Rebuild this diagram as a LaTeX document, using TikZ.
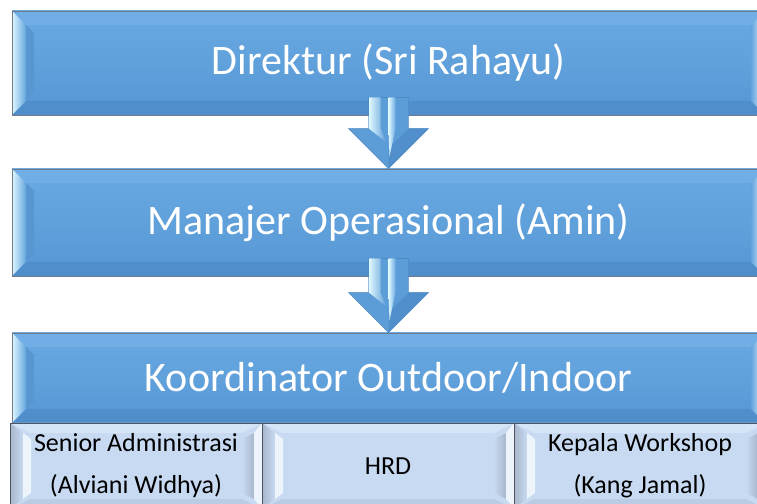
\documentclass[tikz,border=0pt]{standalone}
\usepackage{fontspec}
\setmainfont{Carlito}
\usetikzlibrary{calc}
\definecolor{blueTop}{RGB}{106,170,227}
\definecolor{blueBot}{RGB}{86,150,211}
\definecolor{blueMid}{RGB}{100,164,222}
\definecolor{bevTop}{RGB}{112,174,229}
\definecolor{bevBot}{RGB}{80,142,203}
\definecolor{bevDark}{RGB}{88,150,209}
\definecolor{bevLight}{RGB}{222,248,255}
\definecolor{boxLine}{RGB}{112,122,138}
\definecolor{lightFill}{RGB}{199,218,241}
\definecolor{lightTop}{RGB}{213,228,246}
\definecolor{lightBot}{RGB}{186,204,228}
\definecolor{lightGray}{RGB}{168,182,202}
\definecolor{lightWhite}{RGB}{238,244,251}
\definecolor{arrowBlue}{RGB}{92,156,215}
\definecolor{arrowDark}{RGB}{80,143,204}
\definecolor{arrowLine}{RGB}{70,128,188}

\begin{document}
\begin{tikzpicture}[x=1pt,y=1pt,
	bluebox/.style={draw=boxLine, line width=0.8pt, top color=blueTop, bottom color=blueBot,
		minimum width=753pt, minimum height=#1, inner sep=0pt, text=white,
		font=\fontsize{42}{50}\selectfont,
		path picture={
			\coordinate (nw) at (path picture bounding box.north west);
			\coordinate (ne) at (path picture bounding box.north east);
			\coordinate (sw) at (path picture bounding box.south west);
			\coordinate (se) at (path picture bounding box.south east);
			\fill[bevTop] (nw) -- (ne) -- ++(-14,-14) -- ($(nw)+(14,-14)$) -- cycle;
			\fill[bevBot] (sw) -- (se) -- ++(-14,14) -- ($(sw)+(14,14)$) -- cycle;
			\fill[bevDark] ($(nw)+(14,-14)$) -- ++(8,-8) -- ($(sw)+(22,22)$) -- ++(-8,-8) -- cycle;
			\shade[left color=bevLight, right color=blueMid] (nw) -- ++(14,-14) -- ($(sw)+(14,14)$) -- (sw) -- cycle;
			\shade[left color=blueMid, right color=bevLight] (ne) -- ++(-14,-14) -- ($(se)+(-14,14)$) -- (se) -- cycle;
		}},
	lightbox/.style={draw=boxLine!70!black, line width=0.8pt, fill=lightFill,
		minimum width=252pt, minimum height=86pt, inner sep=0pt, align=center,
		font=\fontsize{26}{42}\selectfont,
		path picture={
			\coordinate (nw) at (path picture bounding box.north west);
			\coordinate (ne) at (path picture bounding box.north east);
			\coordinate (sw) at (path picture bounding box.south west);
			\coordinate (se) at (path picture bounding box.south east);
			\fill[lightTop] (nw) -- (ne) -- ++(-20,-10) -- ($(nw)+(20,-10)$) -- cycle;
			\fill[lightBot] (sw) -- (se) -- ++(-20,10) -- ($(sw)+(20,10)$) -- cycle;
			\shade[left color=lightGray, right color=lightFill] (nw) -- ++(13,-10) -- ($(sw)+(13,10)$) -- (sw) -- cycle;
			\fill[lightWhite] ($(nw)+(13,-10)$) -- ++(8,-6) -- ($(sw)+(21,16)$) -- ++(-8,-6) -- cycle;
			\shade[left color=lightFill, right color=lightGray] ($(ne)+(-20,-16)$) -- ++(12,6) -- ($(se)+(-8,10)$) -- ++(-12,6) -- cycle;
			\fill[lightWhite] (ne) -- ++(-8,-10) -- ($(se)+(-8,10)$) -- (se) -- cycle;
		}},
	blockarrow/.style={fill=arrowBlue, draw=arrowLine, line width=0.4pt}]

	\useasboundingbox (0,0) rectangle (757,503);
	\clip (0,0) rectangle (757,503);

	\node[bluebox=104pt] (Dir) at (388.5,440) {Direktur (Sri Rahayu)};
	\node[bluebox=107pt] (Man) at (388.5,280.5) {Manajer Operasional (Amin)};
	\node[bluebox=90pt] (Koor) at (388.5,125) {Koordinator Outdoor/Indoor};

	\node[lightbox] (SA) at (136,37) {Senior Administrasi\\(Alviani Widhya)};
	\node[lightbox] (HRD) at (388,37) {HRD};
	\node[lightbox] (KW) at (640,37) {Kepala Workshop\\(Kang Jamal)};

	% block arrows between the levels
	\foreach \a/\b in {Dir/Man,Man/Koor} {
		\draw[blockarrow] ($(\a.south)+(-20,18)$) -- ($(\a.south)+(20,18)$) -- ($(\b.north)+(20,40)$)
			-- ($(\b.north)+(40,40)$) -- (\b.north) -- ($(\b.north)+(-40,40)$) -- ($(\b.north)+(-20,40)$) -- cycle;
		\fill[arrowDark] (\b.north) -- ($(\b.north)+(40,40)$) -- ($(\b.north)+(20,40)$) -- ($(\b.north)+(0,20)$) -- cycle;
		\shade[left color=bevLight, right color=arrowBlue] ($(\a.south)+(-19.5,18)$) -- ($(\a.south)+(-8,18)$)
			-- ($(\b.north)+(-8,40)$) -- ($(\b.north)+(-2,26)$) -- ($(\b.north)+(-19.5,40)$) -- cycle;
		\shade[left color=bevLight, right color=blueTop] ($(\a.south)+(0,18)$) -- ($(\a.south)+(7,18)$)
			-- ($(\b.north)+(7,40)$) -- ($(\b.north)+(1,12)$) -- ($(\b.north)+(0,40)$) -- cycle;
	}
\end{tikzpicture}
\end{document}
